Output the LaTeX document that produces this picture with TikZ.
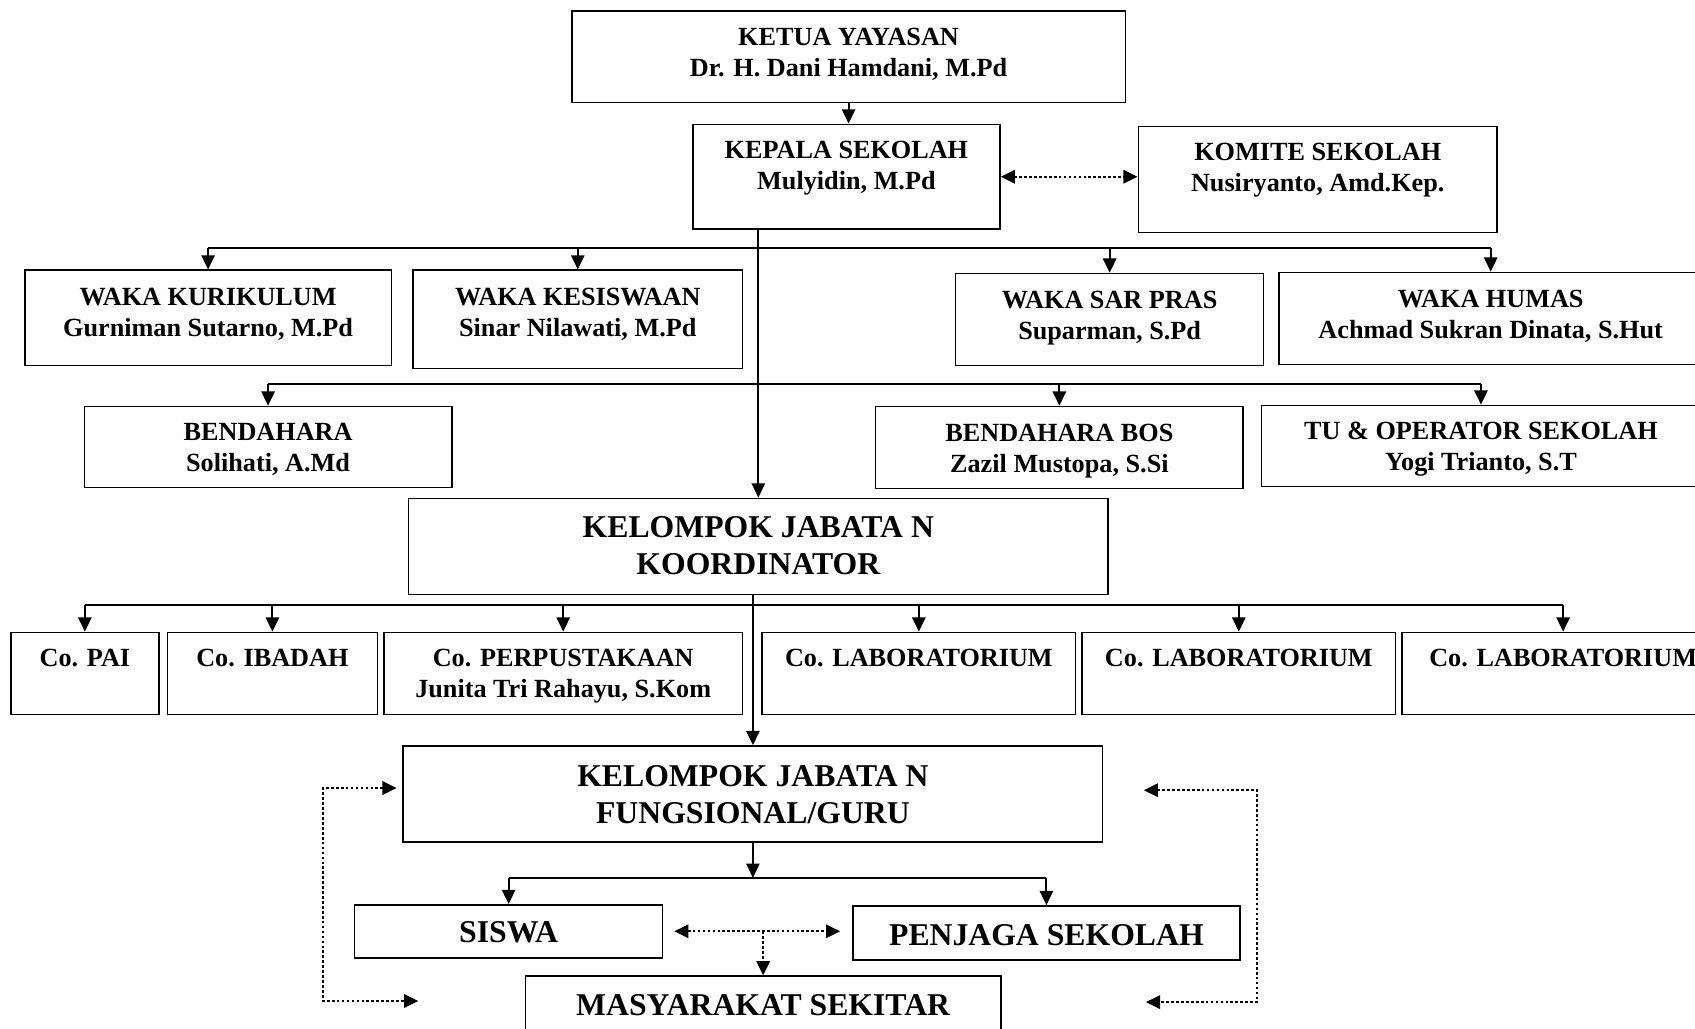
\documentclass[tikz,border=0pt]{standalone}
\usepackage{fontspec}
\setmainfont{Liberation Serif}
\usepackage{tikz}
\usetikzlibrary{arrows.meta, positioning}

\begin{document}
\begin{tikzpicture}[
    x=0.02cm, y=-0.02cm,
    unit/.style 2 args={draw, line width=0.8pt, inner sep=0pt,
        minimum width=#1*0.02cm, minimum height=#2*0.02cm},
    txt/.style={inner sep=0pt, align=center,
        font=\fontsize{13.8}{16.4}\selectfont\bfseries},
    bigtxt/.style={inner sep=0pt, align=center,
        font=\fontsize{16.7}{19.3}\selectfont\bfseries},
    link/.style={line width=1pt},
    arr/.style={link, -{Triangle[length=7.5pt,width=7pt]}},
    dots/.style={line width=1.2pt, dash pattern=on 1.4pt off 1.2pt},
    dotarr/.style={dots, -{Triangle[length=7.5pt,width=7pt]}},
    dotarrs/.style={dots, {Triangle[length=7.5pt,width=7pt]}-{Triangle[length=7.5pt,width=7pt]}}
]
    \useasboundingbox (0,0) rectangle (1568,951);
    \clip (0,0) rectangle (1568,951);

    % pimpinan
    \node[unit={512}{85}] (ketua) at (785,52.5) {};
    \node[txt, below=0.32cm of ketua.north] (ketuaTxt) {KETUA YAYASAN\\Dr. H. Dani Hamdani, M.Pd};
    \node[unit={284}{97}] (kepala) at (783,163.5) {};
    \node[txt, below=0.32cm of kepala.north] (kepalaTxt) {KEPALA SEKOLAH\\Mulyidin, M.Pd};
    \node[unit={332}{98}] (komite) at (1219,166) {};
    \node[txt, below=0.32cm of komite.north] (komiteTxt) {KOMITE SEKOLAH\\Nusiryanto, Amd.Kep.};

    % wakil kepala
    \node[unit={339}{88}] (wakakur) at (192.5,294) {};
    \node[txt, below=0.33cm of wakakur.north] (wakakurTxt) {WAKA KURIKULUM\\Gurniman Sutarno, M.Pd};
    \node[unit={305}{91}] (wakakes) at (534.5,295.5) {};
    \node[txt, below=0.33cm of wakakes.north] (wakakesTxt) {WAKA KESISWAAN\\Sinar Nilawati, M.Pd};
    \node[unit={285}{85}] (sarpras) at (1026.5,295.5) {};
    \node[txt, below=0.33cm of sarpras.north] (sarprasTxt) {WAKA SAR PRAS\\Suparman, S.Pd};
    \node[unit={392}{85}] (humas) at (1379,294.5) {};
    \node[txt, below=0.33cm of humas.north] (humasTxt) {WAKA HUMAS\\Achmad Sukran Dinata, S.Hut};

    % keuangan dan tata usaha
    \node[unit={340}{75}] (bendahara) at (248,413.5) {};
    \node[txt, below=0.32cm of bendahara.north] (bendaharaTxt) {BENDAHARA\\Solihati, A.Md};
    \node[unit={340}{76}] (bos) at (980,414) {};
    \node[txt, below=0.33cm of bos.north] (bosTxt) {BENDAHARA BOS\\Zazil Mustopa, S.Si};
    \node[unit={406}{75}] (tu) at (1370,412.5) {};
    \node[txt, below=0.32cm of tu.north] (tuTxt) {TU \& OPERATOR SEKOLAH\\Yogi Trianto, S.T};

    % koordinator
    \node[unit={647}{89}] (koord) at (701.5,505.5) {};
    \node[bigtxt, below=0.35cm of koord.north] (koordTxt) {KELOMPOK JABATA N\\KOORDINATOR};
    \node[unit={137}{76}] (copai) at (78.5,623) {};
    \node[txt, below=0.32cm of copai.north] (copaiTxt) {Co. PAI};
    \node[unit={194}{76}] (coibadah) at (252,623) {};
    \node[txt, below=0.32cm of coibadah.north] (coibadahTxt) {Co. IBADAH};
    \node[unit={332}{76}] (copustaka) at (521,623) {};
    \node[txt, below=0.32cm of copustaka.north] (copustakaTxt) {Co. PERPUSTAKAAN\\Junita Tri Rahayu, S.Kom};
    \node[unit={290}{76}] (colabA) at (850,623) {};
    \node[txt, below=0.32cm of colabA.north] (colabATxt) {Co. LABORATORIUM};
    \node[unit={290}{76}] (colabB) at (1146,623) {};
    \node[txt, below=0.32cm of colabB.north] (colabBTxt) {Co. LABORATORIUM};
    \node[unit={298}{76}] (colabC) at (1446,623) {};
    \node[txt, below=0.32cm of colabC.north] (colabCTxt) {Co. LABORATORIUM};

    % fungsional dan bawahnya
    \node[unit={647}{89}] (fung) at (696.5,734.5) {};
    \node[bigtxt, below=0.37cm of fung.north] (fungTxt) {KELOMPOK JABATA N\\FUNGSIONAL/GURU};
    \node[unit={285}{49}] (siswa) at (470.5,861.5) {};
    \node[bigtxt, below=0.31cm of siswa.north] (siswaTxt) {SISWA};
    \node[unit={358}{50}] (penjaga) at (968,863) {};
    \node[bigtxt, below=0.35cm of penjaga.north] (penjagaTxt) {PENJAGA SEKOLAH};
    \node[unit={440}{50}] (masy) at (706,928) {};
    \node[bigtxt, below=0.35cm of masy.north] (masyTxt) {MASYARAKAT SEKITAR};

    % garis cabang
    \coordinate (bus1) at (0,229);
    \coordinate (bus2) at (0,355);
    \coordinate (bus3) at (0,560);
    \coordinate (bus4) at (0,812);

    \draw[arr] (ketua.south) -- (ketua.south |- kepala.north);
    \draw[dotarrs] (kepala.east) -- (kepala.east -| komite.west);
    \draw[arr] (kepala.south -| koord.north) -- (koord.north);

    \draw[link] (wakakur.north |- bus1) -- (humas.north |- bus1);
    \draw[arr] (wakakur.north |- bus1) -- (wakakur.north);
    \draw[arr] (wakakes.north |- bus1) -- (wakakes.north);
    \draw[arr] (sarpras.north |- bus1) -- (sarpras.north);
    \draw[arr] (humas.north |- bus1) -- (humas.north);

    \draw[link] (bendahara.north |- bus2) -- (tu.north |- bus2);
    \draw[arr] (bendahara.north |- bus2) -- (bendahara.north);
    \draw[arr] (bos.north |- bus2) -- (bos.north);
    \draw[arr] (tu.north |- bus2) -- (tu.north);

    \draw[link] (copai.north |- bus3) -- (colabC.north |- bus3);
    \draw[arr] (copai.north |- bus3) -- (copai.north);
    \draw[arr] (coibadah.north |- bus3) -- (coibadah.north);
    \draw[arr] (copustaka.north |- bus3) -- (copustaka.north);
    \draw[arr] (colabA.north |- bus3) -- (colabA.north);
    \draw[arr] (colabB.north |- bus3) -- (colabB.north);
    \draw[arr] (colabC.north |- bus3) -- (colabC.north);
    \draw[arr] (koord.south -| fung.north) -- (fung.north);

    \draw[arr] (fung.south) -- (fung.south |- bus4);
    \draw[link] (siswa.north |- bus4) -- (penjaga.north |- bus4);
    \draw[arr] (siswa.north |- bus4) -- (siswa.north);
    \draw[arr] (penjaga.north |- bus4) -- (penjaga.north);

    % hubungan putus-putus
    \draw[dotarrs, shorten <=0.2cm, shorten >=0.22cm] (siswa.east) -- (siswa.east -| penjaga.west);
    \draw[dotarr] (masy.north |- siswa.east) -- (masy.north);

    \coordinate (lup) at (367,729);
    \coordinate (ldn) at (387,926);
    \coordinate (rup) at (1058,731);
    \coordinate (rdn) at (1060,927);
    \draw[dotarrs] (lup) -- ++(-68,0) |- (ldn);
    \draw[dotarrs] (rup) -- ++(105,0) |- (rdn);
\end{tikzpicture}
\end{document}
